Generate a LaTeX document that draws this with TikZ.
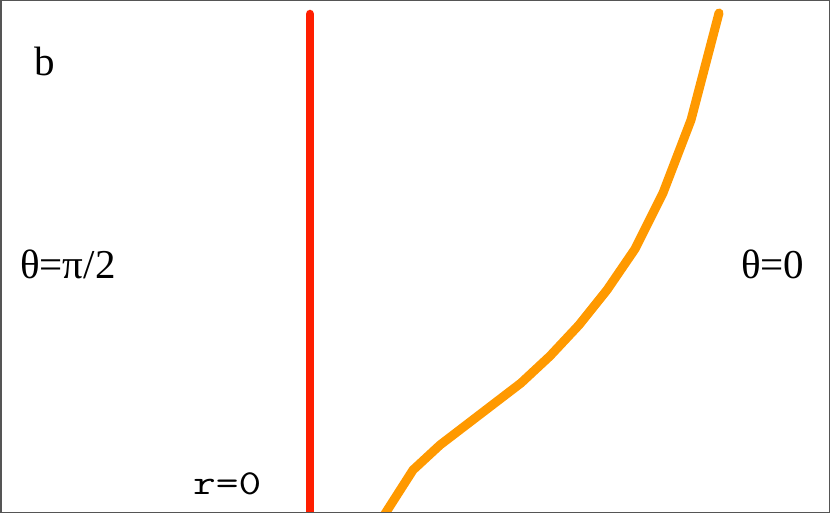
\documentclass[tikz,border=0pt]{standalone}
\usepackage{fontspec}
\setmainfont{Liberation Serif}
\newcommand{\widemono}[1]{\scalebox{1.26}[1]{#1}}
\begin{document}
\begin{tikzpicture}[x=1pt,y=-1pt,
  lbl/.style={inner sep=0pt,anchor=base west,font=\fontsize{41}{44}\selectfont},
  monolbl/.style={inner sep=0pt,anchor=base west,font=\ttfamily\fontsize{35}{37}\selectfont},
  redline/.style={draw={rgb,255:red,255;green,30;blue,0},line width=8.5pt,line cap=round},
  orangeline/.style={draw={rgb,255:red,255;green,153;blue,0},line width=9pt,line cap=round,line join=round}]
\useasboundingbox (0,0) rectangle (830,513);
\begin{scope}
\clip (0,0) rectangle (830,513);
\coordinate (r0) at (310,14);
\coordinate (r1) at (310,530);
\draw[redline] (r0) -- (r1);
\coordinate (o0) at (374,531);
\coordinate (o1) at (413,470);
\coordinate (o2) at (440,445);
\coordinate (o3) at (521,383);
\coordinate (o4) at (550,356);
\coordinate (o5) at (579,325);
\coordinate (o6) at (607,290);
\coordinate (o7) at (635,249);
\coordinate (o8) at (663,193);
\coordinate (o9) at (691,120);
\coordinate (o10) at (719,13);
\draw[orangeline] (o0) -- (o1) -- (o2) -- (o3) -- (o4) -- (o5) -- (o6) -- (o7) -- (o8) -- (o9) -- (o10);
\end{scope}
\node[lbl] (b) at (34,76) {b};
\node[lbl] (t1) at (20,278) {θ=π/2};
\node[lbl] (t2) at (741,278) {θ=0};
\node[monolbl] (r) at (193,494) {\widemono{r=0}};
\draw[draw={rgb,255:red,85;green,85;blue,85},line width=1.5pt] (0.75,0.75) rectangle (829.25,512.25);
\end{tikzpicture}
\end{document}
